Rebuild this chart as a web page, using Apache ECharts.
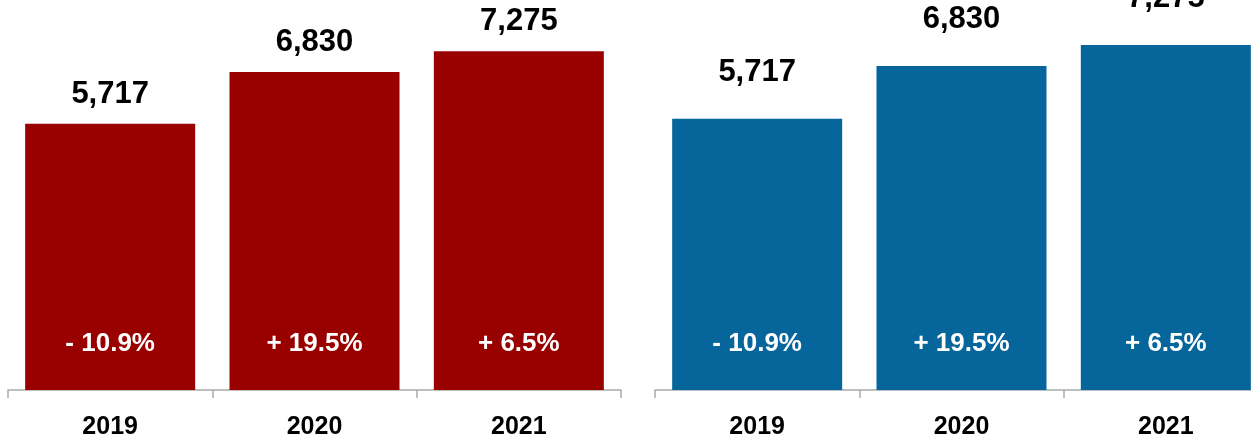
<!DOCTYPE html>
<html>
<head>
<meta charset="utf-8">
<script src="https://cdn.jsdelivr.net/npm/echarts@6/dist/echarts.min.js"></script>
<style>
  html, body { margin: 0; padding: 0; background: #ffffff; }
  #chart { width: 1251px; height: 438px; }
</style>
</head>
<body>
<div id="chart"></div>
<script>
// Yearly totals with their year-on-year change, shown in two panels
const years = ['2019', '2020', '2021'];
const totalsLeft = [5717, 6830, 7275];
const totalsRight = [5717, 6830, 7275];
const changeLabels = ['- 10.9%', '+ 19.5%', '+ 6.5%'];

const FONT = '"Liberation Sans", Arial, Helvetica, sans-serif';
const AXIS_GREY = '#ababab';

function xAxisFor(gridIndex) {
  return {
    type: 'category',
    gridIndex: gridIndex,
    data: years,
    boundaryGap: true,
    axisLine: { show: true, lineStyle: { color: AXIS_GREY, width: 1.5 } },
    axisTick: { show: true, length: 8, alignWithLabel: false, lineStyle: { color: AXIS_GREY, width: 1.5 } },
    axisLabel: { margin: 25, color: '#000', fontFamily: FONT, fontWeight: 'bold', fontSize: 25 }
  };
}

function yAxisFor(gridIndex) {
  return {
    type: 'value',
    gridIndex: gridIndex,
    min: 0,
    max: 8000,
    show: false,
    splitLine: { show: false }
  };
}

// coloured bars, with the year-on-year change written near the base
function barSeries(idx, values, color) {
  return {
    type: 'bar',
    xAxisIndex: idx,
    yAxisIndex: idx,
    data: values,
    barCategoryGap: '16.8%',
    itemStyle: { color: color },
    label: {
      show: true,
      position: 'insideBottom',
      distance: 33,
      color: '#fff',
      fontFamily: FONT,
      fontWeight: 'bold',
      fontSize: 26,
      formatter: p => changeLabels[p.dataIndex]
    },
    silent: true,
    animation: false,
    emphasis: { disabled: true }
  };
}

// transparent twin bars that carry the value labels above each bar
function valueLabelSeries(idx, values, distance) {
  return {
    type: 'bar',
    xAxisIndex: idx,
    yAxisIndex: idx,
    data: values,
    barCategoryGap: '16.8%',
    barGap: '-100%',
    itemStyle: { color: 'rgba(0,0,0,0)' },
    label: {
      show: true,
      position: 'top',
      distance: distance,
      color: '#000',
      fontFamily: FONT,
      fontWeight: 'bold',
      fontSize: 31,
      formatter: p => p.value.toLocaleString('en-US')
    },
    silent: true,
    animation: false,
    emphasis: { disabled: true }
  };
}

const chart = echarts.init(document.getElementById('chart'), null, { renderer: 'canvas' });
chart.setOption({
  backgroundColor: '#ffffff',
  animation: false,
  grid: [
    { left: 8, width: 613, top: 17.6, bottom: 48, containLabel: false, outerBoundsMode: 'none' },
    { left: 655, width: 613, top: 10.5, bottom: 48, containLabel: false, outerBoundsMode: 'none' }
  ],
  xAxis: [xAxisFor(0), xAxisFor(1)],
  yAxis: [yAxisFor(0), yAxisFor(1)],
  series: [
    barSeries(0, totalsLeft, '#990000'),
    valueLabelSeries(0, totalsLeft, 14),
    barSeries(1, totalsRight, '#06669B'),
    valueLabelSeries(1, totalsRight, 31)
  ]
});
</script>
</body>
</html>
